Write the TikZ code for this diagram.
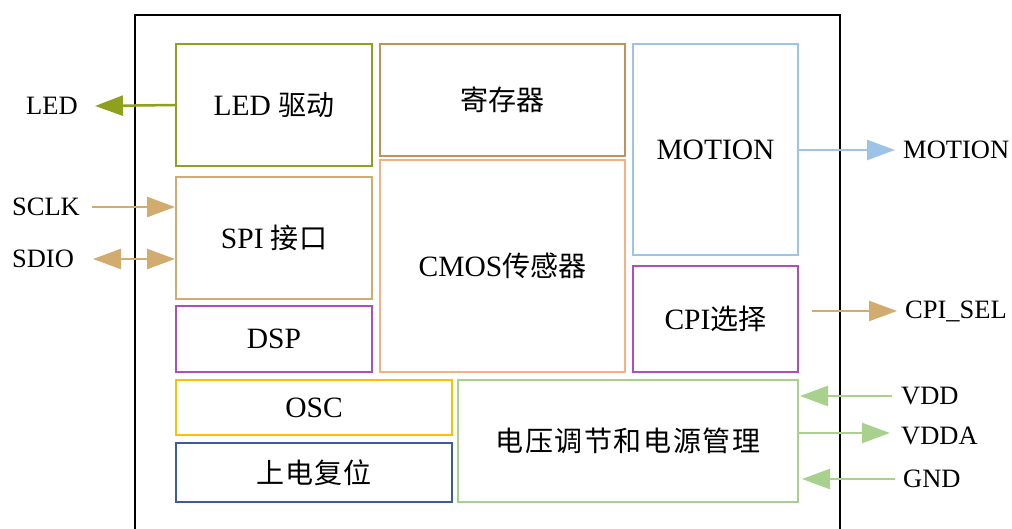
\documentclass[tikz,border=0pt]{standalone}
\usepackage{fontspec}
\setmainfont{Liberation Serif}
\newfontfamily\cjk{Noto Sans CJK SC}[Scale=0.95]
\usetikzlibrary{arrows.meta}
\definecolor{cOlive}{RGB}{143,160,30}
\definecolor{cBrown}{RGB}{193,145,90}
\definecolor{cOrange}{RGB}{244,177,131}
\definecolor{cBlue}{RGB}{157,195,230}
\definecolor{cTan}{RGB}{210,172,110}
\definecolor{cPurple}{RGB}{176,76,190}
\definecolor{cGold}{RGB}{255,192,0}
\definecolor{cNavy}{RGB}{60,92,158}
\definecolor{cGreen}{RGB}{169,209,142}
\tikzset{
  blk/.style={draw, line width=2pt, inner sep=0pt, font=\fontsize{29.5}{33}\selectfont},
  lbl/.style={inner sep=0pt, font=\fontsize{26.5}{30}\selectfont},
  sig/.style={line width=2.5pt, -{Triangle[length=28pt,width=20pt]}},
  sigb/.style={line width=2.5pt, {Triangle[length=28pt,width=20pt]}-{Triangle[length=28pt,width=20pt]}}
}
\begin{document}
\begin{tikzpicture}[x=1pt,y=-1pt]
\useasboundingbox (0,0) rectangle (1012,529);
\draw[line width=2pt] (135,540) -- (135,15) -- (840,15) -- (840,540);

\node[blk, draw=cOlive, minimum width=196pt, minimum height=122pt] (led) at (274,105) {LED {\cjk 驱动}};
\node[blk, draw=cBrown, minimum width=245pt, minimum height=112pt] (reg) at (502.5,100) {\cjk 寄存器};
\node[blk, draw=cBlue, minimum width=165pt, minimum height=211pt] (mot) at (715.5,149.5) {MOTION};
\node[blk, draw=cTan, minimum width=196pt, minimum height=122pt] (spi) at (274,238) {SPI {\cjk 接口}};
\node[blk, draw=cOrange, minimum width=245pt, minimum height=212pt] (cmos) at (502.5,266) {CMOS{\cjk 传感器}};
\node[blk, draw=cPurple, minimum width=165pt, minimum height=106pt] (cpi) at (715.5,319) {CPI{\cjk 选择}};
\node[blk, draw=cPurple, minimum width=196pt, minimum height=66pt] (dsp) at (274,339) {DSP};
\node[blk, draw=cGold, minimum width=276pt, minimum height=55pt] (osc) at (314,407.5) {OSC};
\node[blk, draw=cNavy, minimum width=276pt, minimum height=59pt] (rst) at (314,472.5) {\cjk 上\kern1pt 电\kern1pt 复\kern1pt 位};
\node[blk, draw=cGreen, minimum width=340pt, minimum height=122pt] (pwr) at (628,441) {\cjk 电\kern1.5pt 压\kern1.5pt 调\kern1.5pt 节\kern1.5pt 和\kern1.5pt 电\kern1.5pt 源\kern1.5pt 管\kern1.5pt 理};

\node[lbl] (tled) at (52,106) {LED};
\node[lbl] (tsclk) at (46,207) {SCLK};
\node[lbl] (tsdio) at (43,259) {SDIO};
\node[lbl, anchor=west] (tmot) at (903,150) {MOTION};
\node[lbl, anchor=west] (tcpi) at (905,311) {CPI\_SEL};
\node[lbl, anchor=west] (tvdd) at (901,396) {VDD};
\node[lbl, anchor=west] (tvdda) at (901,436) {VDDA};
\node[lbl, anchor=west] (tgnd) at (903,479) {GND};

\coordinate (ledE) at (95,106);
\coordinate (sclkS) at (92,207);
\coordinate (sdioS) at (93,259);
\coordinate (motE) at (895,150);
\coordinate (cpiS) at (812,311);
\coordinate (cpiE) at (897,311);
\coordinate (vddS) at (892,396);
\coordinate (vddE) at (800,396);
\coordinate (vddaE) at (890,433);
\coordinate (gndS) at (895,479);
\coordinate (gndE) at (802,479);

\draw[sig, cOlive] (led.west) -- (ledE);
\draw[sig, cTan] (sclkS) -- (sclkS -| spi.west);
\draw[sigb, cTan] (sdioS) -- (sdioS -| spi.west);
\draw[sig, cBlue] (mot.east |- motE) -- (motE);
\draw[sig, cTan] (cpiS) -- (cpiE);
\draw[sig, cGreen] (vddS) -- (vddE);
\draw[sig, cGreen] (pwr.east |- vddaE) -- (vddaE);
\draw[sig, cGreen] (gndS) -- (gndE);
\end{tikzpicture}
\end{document}
